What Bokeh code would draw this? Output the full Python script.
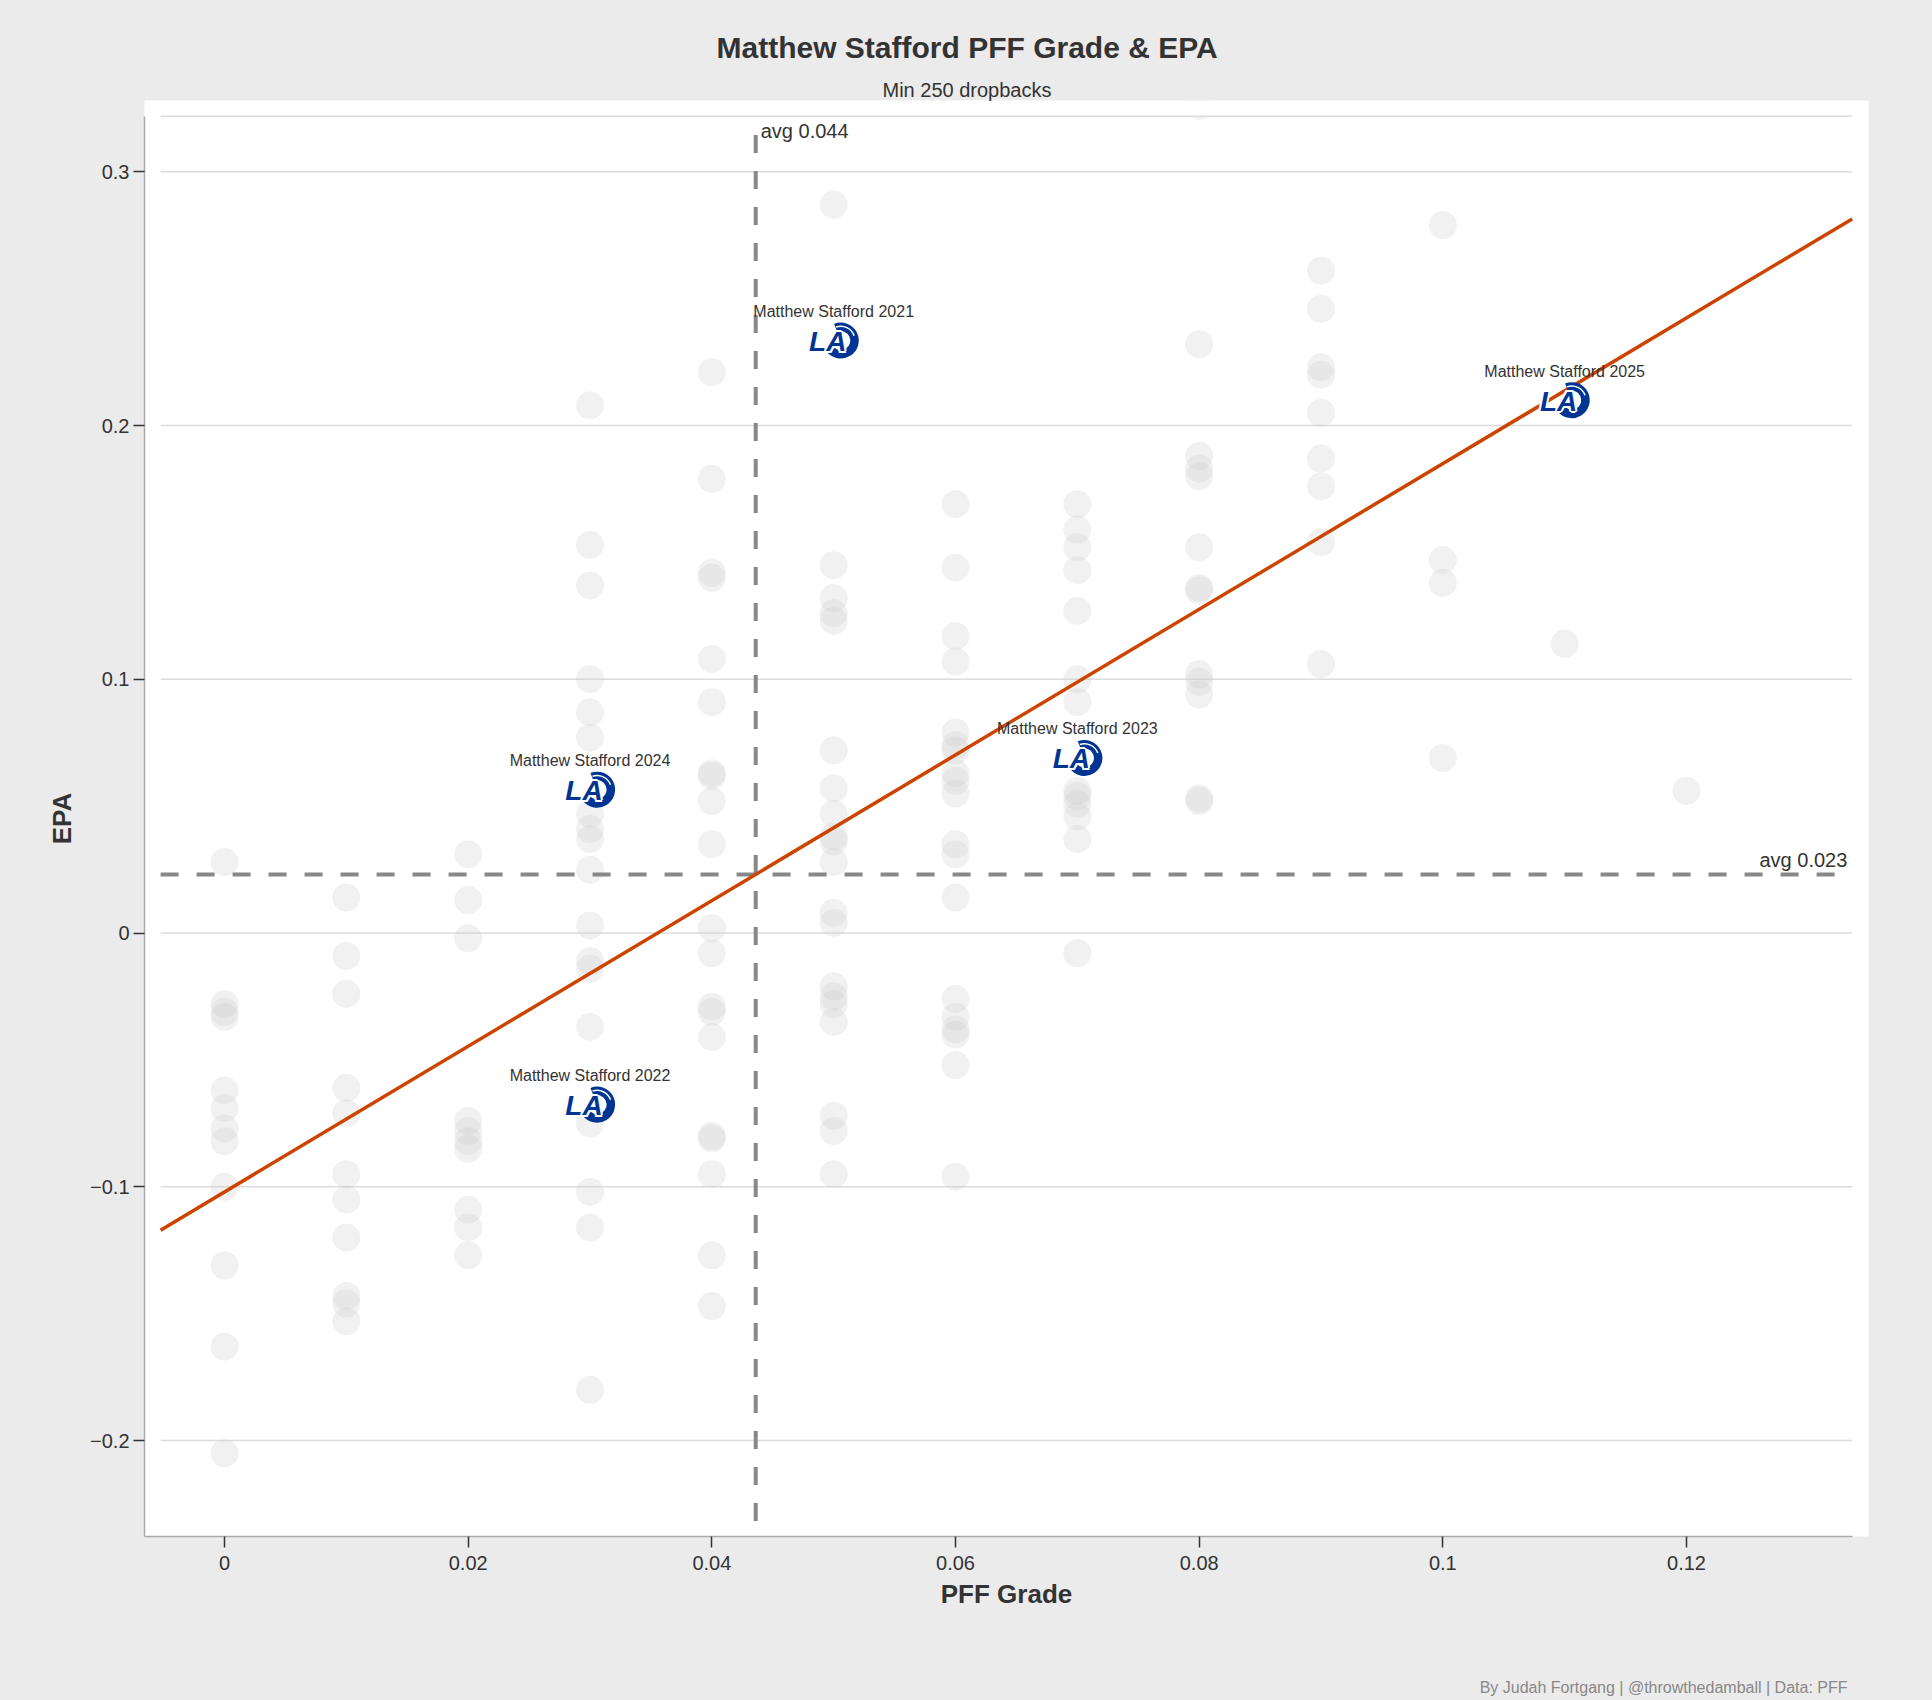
from bokeh.plotting import figure
from bokeh.models import Range1d, FixedTicker, Title
from bokeh.core.properties import value
from bokeh.embed import file_html
from bokeh.resources import INLINE

# ---------------- texts ----------------
title_text = "Matthew Stafford PFF Grade & EPA"
subtitle_text = "Min 250 dropbacks"
footer_text = "By Judah Fortgang | @throwthedamball | Data: PFF"
x_label = "PFF Grade"
y_label = "EPA"

# ---------------- ticks ----------------
x_ticks = [0, 0.02, 0.04, 0.06, 0.08, 0.1, 0.12]
x_tick_labels = ["0", "0.02", "0.04", "0.06", "0.08", "0.1", "0.12"]
y_ticks = [-0.2, -0.1, 0, 0.1, 0.2, 0.3]
y_tick_labels = ["\u22120.2", "\u22120.1", "0", "0.1", "0.2", "0.3"]

# ---------------- all QB seasons (grey) ----------------
grade_levels = [0.0, 0.01, 0.02, 0.03, 0.04, 0.05, 0.06, 0.07, 0.08, 0.09, 0.10, 0.11, 0.12]
epa_grade_000 = [0.028, -0.028, -0.031, -0.033, -0.062, -0.069, -0.077, -0.082, -0.100, -0.131, -0.163, -0.205]
epa_grade_001 = [0.014, -0.009, -0.024, -0.061, -0.071, -0.095, -0.105, -0.120, -0.143, -0.146, -0.153]
epa_grade_002 = [0.031, 0.013, -0.002, -0.074, -0.078, -0.082, -0.085, -0.109, -0.116, -0.127]
epa_grade_003 = [0.208, 0.153, 0.137, 0.100, 0.087, 0.077, 0.047, 0.041, 0.037, 0.025, 0.003,
                 -0.011, -0.014, -0.037, -0.075, -0.102, -0.116, -0.180]
epa_grade_004 = [0.221, 0.179, 0.142, 0.140, 0.108, 0.091, 0.063, 0.062, 0.052, 0.035, 0.002,
                 -0.008, -0.029, -0.031, -0.041, -0.080, -0.081, -0.095, -0.127, -0.147]
epa_grade_005 = [0.287, 0.145, 0.132, 0.126, 0.123, 0.072, 0.057, 0.047, 0.038, 0.036, 0.028,
                 0.008, 0.004, -0.021, -0.025, -0.028, -0.035, -0.072, -0.078, -0.095]
epa_grade_006 = [0.169, 0.144, 0.117, 0.107, 0.079, 0.074, 0.072, 0.063, 0.060, 0.055, 0.035,
                 0.031, 0.014, -0.026, -0.033, -0.038, -0.040, -0.052, -0.096]
epa_grade_007 = [0.169, 0.159, 0.152, 0.143, 0.127, 0.100, 0.091, 0.056, 0.054, 0.051, 0.046, 0.037, -0.008]
epa_grade_008 = [0.326, 0.232, 0.188, 0.183, 0.180, 0.152, 0.136, 0.135, 0.102, 0.099, 0.094, 0.053, 0.052]
epa_grade_009 = [0.261, 0.246, 0.223, 0.220, 0.205, 0.187, 0.176, 0.154, 0.106]
epa_grade_010 = [0.279, 0.147, 0.138, 0.069]
epa_grade_011 = [0.114]
epa_grade_012 = [0.056]
epa_by_grade = [epa_grade_000, epa_grade_001, epa_grade_002, epa_grade_003, epa_grade_004,
                epa_grade_005, epa_grade_006, epa_grade_007, epa_grade_008, epa_grade_009,
                epa_grade_010, epa_grade_011, epa_grade_012]

# ---------------- Stafford seasons ----------------
stafford_season = ["2021", "2022", "2023", "2024", "2025"]
stafford_grade = [0.05, 0.03, 0.07, 0.03, 0.11]
stafford_epa = [0.2335, -0.0676, 0.069, 0.0565, 0.210]

# ---------------- averages & trend ----------------
avg_grade = 0.0436
avg_epa = 0.0231
avg_grade_label = "avg 0.044"
avg_epa_label = "avg 0.023"
trend_slope = 2.87
trend_intercept = -0.102

# ---------------- layout constants ----------------
x_start, x_end = -0.00657, 0.13494
y_start, y_end = -0.2378, 0.3281
grid_x0, grid_x1 = -0.00525, 0.1336
y_domain_top = 0.3219
vline_top, vline_bottom = 0.3145, -0.233
avg_grade_label_y = 0.313
right_label_x = 0.1332
logo_ring_dx = 0.00058

FONT = "Liberation Sans"
TEXT = "#333333"
BLUE = "#003594"

grey_x = [g for g, col in zip(grade_levels, epa_by_grade) for _ in col]
grey_y = [v for col in epa_by_grade for v in col]

p = figure(width=1916, height=1700, title=None,
           x_range=Range1d(x_start, x_end), y_range=Range1d(y_start, y_end),
           output_backend="svg", toolbar_location=None,
           min_border_left=144, min_border_right=48, min_border_top=100, min_border_bottom=164)
p.background_fill_color = "white"
p.border_fill_color = "#ebebeb"
p.outline_line_color = None
p.xgrid.visible = False
p.ygrid.visible = False

# grid lines
p.segment(x0=[grid_x0] * len(y_ticks), x1=[grid_x1] * len(y_ticks), y0=y_ticks, y1=y_ticks,
          line_color="#dcdcdc", line_width=1.5)

# grey points
p.scatter(x=grey_x, y=grey_y, size=28, marker="circle",
          fill_color="#cccccc", fill_alpha=0.28, line_color=None)

# blank band above the data domain, then the domain's top rule
p.quad(left=[x_start], right=[x_end], bottom=[y_domain_top], top=[y_end],
       fill_color="white", line_color=None)
p.segment(x0=[grid_x0], x1=[grid_x1], y0=[y_domain_top], y1=[y_domain_top],
          line_color="#dcdcdc", line_width=1.5)

# average lines
p.line(x=[avg_grade, avg_grade], y=[vline_top, vline_bottom], line_color="#888888",
       line_width=4, line_dash="18 18")
p.line(x=[grid_x0, grid_x1], y=[avg_epa, avg_epa], line_color="#888888",
       line_width=4, line_dash="18 18")

# trend line
p.line(x=[grid_x0, grid_x1],
       y=[trend_intercept + trend_slope * grid_x0, trend_intercept + trend_slope * grid_x1],
       line_color="#cc4400", line_width=3.5)

# average labels
p.text(x=[avg_grade], y=[avg_grade_label_y], text=[avg_grade_label], x_offset=5, y_offset=-8,
       text_font=value(FONT), text_font_size="20px", text_color=TEXT,
       text_align="left", text_baseline="alphabetic")
p.text(x=[right_label_x], y=[avg_epa], text=[avg_epa_label], y_offset=-14,
       text_font=value(FONT), text_font_size="20px", text_color=TEXT,
       text_align="right", text_baseline="alphabetic")

# Rams logos (approximation)
ring_x = [g + logo_ring_dx for g in stafford_grade]
p.annular_wedge(x=ring_x, y=stafford_epa, inner_radius=9.5, outer_radius=18,
                inner_radius_units="screen", outer_radius_units="screen",
                start_angle=-2.5, end_angle=1.95, direction="anticlock",
                fill_color=BLUE, line_color=None)
p.annular_wedge(x=ring_x, y=stafford_epa, inner_radius=13.5, outer_radius=15,
                inner_radius_units="screen", outer_radius_units="screen",
                start_angle=0.35, end_angle=1.9, direction="anticlock",
                fill_color="white", line_color=None)
la_text = ["LA"] * len(stafford_grade)
for dx, dy in [(-2, 0), (2, 0), (0, -2), (0, 2), (-1.5, -1.5), (1.5, 1.5), (-1.5, 1.5), (1.5, -1.5)]:
    p.text(x=stafford_grade, y=stafford_epa, text=la_text, x_offset=-6 + dx, y_offset=1 + dy,
           text_font=value(FONT), text_font_size="28px", text_font_style="bold italic",
           text_color="white", text_align="center", text_baseline="middle")
p.text(x=stafford_grade, y=stafford_epa, text=la_text, x_offset=-6, y_offset=1,
       text_font=value(FONT), text_font_size="28px", text_font_style="bold italic",
       text_color=BLUE, text_align="center", text_baseline="middle")

# Stafford labels
p.text(x=stafford_grade, y=stafford_epa, text=["Matthew Stafford " + s for s in stafford_season],
       y_offset=-29, text_font=value(FONT), text_font_size="16px", text_color=TEXT,
       text_align="center", text_baseline="alphabetic")

# axes
p.xaxis.ticker = FixedTicker(ticks=x_ticks)
p.xaxis.major_label_overrides = dict(zip(x_ticks, x_tick_labels))
p.yaxis.ticker = FixedTicker(ticks=y_ticks)
p.yaxis.major_label_overrides = dict(zip(y_ticks, y_tick_labels))
p.xaxis.bounds = (x_start, grid_x1)
p.yaxis.bounds = (y_start, y_domain_top)
p.xaxis.axis_label = x_label
p.yaxis.axis_label = y_label
for ax in (p.xaxis, p.yaxis):
    ax.axis_line_color = "#aaaaaa"
    ax.axis_line_width = 1.5
    ax.major_tick_line_color = TEXT
    ax.major_tick_line_width = 1.5
    ax.major_tick_out = 11
    ax.major_tick_in = 0
    ax.minor_tick_line_color = None
    ax.major_label_text_font = FONT
    ax.major_label_text_font_size = "20px"
    ax.major_label_text_color = TEXT
    ax.axis_label_text_font = FONT
    ax.axis_label_text_font_size = "26px"
    ax.axis_label_text_font_style = "bold"
    ax.axis_label_text_color = TEXT
p.xaxis.major_label_standoff = 8
p.yaxis.major_label_standoff = 4
p.xaxis.axis_label_standoff = 6
p.yaxis.axis_label_standoff = 10

# titles (left aligned with pixel offsets from the frame's left edge)
p.add_layout(Title(text=subtitle_text, text_font=FONT, text_font_size="20px",
                   text_font_style="normal", text_color=TEXT, align="left",
                   offset=738, standoff=0), "above")
p.add_layout(Title(text=title_text, text_font=FONT, text_font_size="30px",
                   text_font_style="bold", text_color=TEXT, align="left",
                   offset=572, standoff=26), "above")

# footer: a thin spacer panel, then the credit line at the very bottom
p.add_layout(Title(text=" ", text_font=FONT, text_font_size="1px", standoff=62), "below")
p.add_layout(Title(text=footer_text, text_font=FONT, text_font_size="16px",
                   text_font_style="normal", text_color="#888888", align="right",
                   offset=21, standoff=0), "below")

html = file_html(p, INLINE, title="Matthew Stafford PFF Grade & EPA")
html = html.replace("</head>", "<style>body{background:#ebebeb;}</style></head>", 1)
open("out.html", "w").write(html)
